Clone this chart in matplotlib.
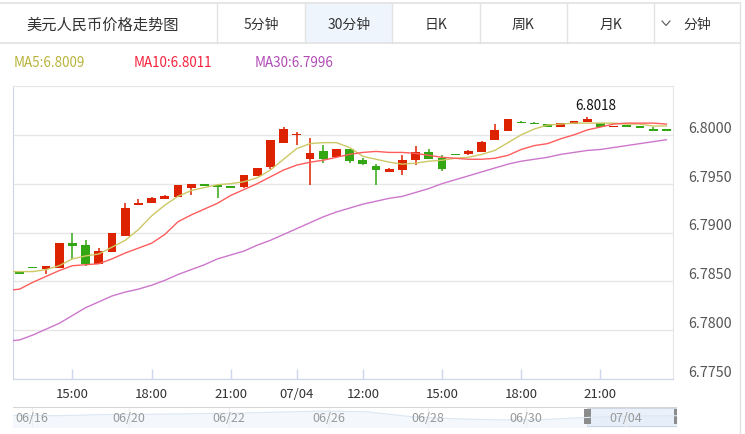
import matplotlib
matplotlib.use("Agg")
import matplotlib.pyplot as plt
from matplotlib.patches import Rectangle

plt.rcParams['font.family'] = ['Noto Sans CJK SC', 'DejaVu Sans']

# 30-minute candles, USD/CNY
opens = [6.7859, 6.7864, 6.7863, 6.7864, 6.7889, 6.7887, 6.7868, 6.7880, 6.7896, 6.7928,
         6.7930, 6.7934, 6.7936, 6.7946, 6.7949, 6.7948, 6.7947, 6.7947, 6.7958, 6.7967,
         6.7992, 6.8000, 6.7975, 6.7983, 6.7977, 6.7985, 6.7974, 6.7968, 6.7962, 6.7964,
         6.7974, 6.7982, 6.7976, 6.7980, 6.7980, 6.7982, 6.7995, 6.8004, 6.8013, 6.8012,
         6.8011, 6.8008, 6.8011, 6.8013, 6.8012, 6.8008, 6.8009, 6.8008, 6.8006, 6.8005]
highs = [6.7860, 6.7864, 6.7866, 6.7889, 6.7900, 6.7892, 6.7884, 6.7900, 6.7930, 6.7934,
         6.7936, 6.7938, 6.7949, 6.7950, 6.7949, 6.7948, 6.7947, 6.7959, 6.7966, 6.7995,
         6.8008, 6.8003, 6.7997, 6.7990, 6.7986, 6.7985, 6.7976, 6.7970, 6.7966, 6.7979,
         6.7989, 6.7985, 6.7979, 6.7980, 6.7984, 6.7994, 6.8011, 6.8016, 6.8014, 6.8013,
         6.8011, 6.8012, 6.8014, 6.8018, 6.8012, 6.8009, 6.8009, 6.8008, 6.8008, 6.8005]
lows = [6.7857, 6.7864, 6.7858, 6.7864, 6.7873, 6.7866, 6.7868, 6.7880, 6.7896, 6.7928,
        6.7930, 6.7934, 6.7936, 6.7938, 6.7948, 6.7935, 6.7946, 6.7946, 6.7958, 6.7965,
        6.7992, 6.7990, 6.7949, 6.7971, 6.7977, 6.7971, 6.7969, 6.7949, 6.7962, 6.7959,
        6.7969, 6.7975, 6.7963, 6.7979, 6.7979, 6.7982, 6.7995, 6.8004, 6.8012, 6.8011,
        6.8008, 6.8008, 6.8011, 6.8013, 6.8008, 6.8008, 6.8008, 6.8008, 6.8004, 6.8005]
closes = [6.7858, 6.7864, 6.7866, 6.7889, 6.7886, 6.7868, 6.7881, 6.7899, 6.7925, 6.7930,
          6.7935, 6.7937, 6.7949, 6.7950, 6.7948, 6.7947, 6.7946, 6.7959, 6.7966, 6.7995,
          6.8006, 6.8001, 6.7981, 6.7975, 6.7986, 6.7973, 6.7970, 6.7964, 6.7965, 6.7974,
          6.7982, 6.7975, 6.7965, 6.7979, 6.7983, 6.7993, 6.8005, 6.8016, 6.8012, 6.8011,
          6.8008, 6.8012, 6.8014, 6.8016, 6.8008, 6.8009, 6.8009, 6.8008, 6.8004, 6.8005]

ma5 = [6.7860, 6.7860, 6.7862, 6.7866, 6.7873, 6.7876, 6.7878, 6.7885, 6.7892, 6.7903,
       6.7917, 6.7928, 6.7937, 6.7943, 6.7946, 6.7949, 6.7950, 6.7952, 6.7956, 6.7964,
       6.7975, 6.7986, 6.7991, 6.7992, 6.7992, 6.7987, 6.7978, 6.7975, 6.7972, 6.7970,
       6.7971, 6.7973, 6.7974, 6.7976, 6.7977, 6.7980, 6.7984, 6.7992, 6.8000, 6.8006,
       6.8010, 6.8011, 6.8012, 6.8012, 6.8012, 6.8012, 6.8011, 6.8011, 6.8009, 6.8009]
ma10 = [6.7842, 6.7849, 6.7855, 6.7861, 6.7866, 6.7867, 6.7868, 6.7873, 6.7879, 6.7884,
        6.7889, 6.7898, 6.7911, 6.7918, 6.7924, 6.7930, 6.7938, 6.7944, 6.7950, 6.7957,
        6.7964, 6.7969, 6.7972, 6.7974, 6.7977, 6.7980, 6.7982, 6.7983, 6.7982, 6.7982,
        6.7981, 6.7979, 6.7977, 6.7976, 6.7975, 6.7975, 6.7976, 6.7979, 6.7985, 6.7989,
        6.7991, 6.7996, 6.8000, 6.8005, 6.8008, 6.8011, 6.8012, 6.8012, 6.8012, 6.8011]
ma30 = [6.7790, 6.7795, 6.7801, 6.7807, 6.7815, 6.7823, 6.7829, 6.7835, 6.7839, 6.7842,
        6.7846, 6.7851, 6.7857, 6.7862, 6.7867, 6.7873, 6.7877, 6.7881, 6.7887, 6.7892,
        6.7898, 6.7904, 6.7910, 6.7916, 6.7921, 6.7925, 6.7929, 6.7932, 6.7935, 6.7937,
        6.7941, 6.7945, 6.7950, 6.7954, 6.7958, 6.7962, 6.7966, 6.7970, 6.7973, 6.7975,
        6.7977, 6.7980, 6.7982, 6.7984, 6.7985, 6.7987, 6.7989, 6.7991, 6.7993, 6.7995]

xtick_pos = [4, 10, 16, 21, 26, 32, 38, 44]
xtick_labels = ["15:00", "18:00", "21:00", "07/04", "12:00", "15:00", "18:00", "21:00"]
ytick_vals = [6.7750, 6.7800, 6.7850, 6.7900, 6.7950, 6.8000]
y_min, y_max = 6.7750, 6.8050

title = "美元人民币价格走势图"
tabs = ["5分钟", "30分钟", "日K", "周K", "月K"]
ma_labels = ["MA5:6.8009", "MA10:6.8011", "MA30:6.7996"]
max_label = "6.8018"
max_idx = 43

nav_labels = ["06/16", "06/20", "06/22", "06/26", "06/28", "06/30", "07/04"]
nav_shadow = [0.55, 0.52, 0.60, 0.62, 0.66, 0.70, 0.78, 0.85, 0.80, 0.45, 0.30, 0.22, 0.25, 0.40, 0.50, 0.52]

RED = '#dd2200'
GREEN = '#33a614'
MA_COLORS = ['#cdc865', '#ff5c5c', '#cc77cc']
MA_TEXT = ['#b8b33a', '#f5213d', '#b04ab5']
W, H = 745, 435

fig = plt.figure(figsize=(W / 100, H / 100), dpi=100)
fig.patch.set_facecolor('white')

# header / frame drawn in pixel coords
bg = fig.add_axes([0, 0, 1, 1])
bg.set_xlim(0, W)
bg.set_ylim(H, 0)
bg.axis('off')
line_c = '#e2e2e2'
bg.add_patch(Rectangle((305, 3.5), 87, 40.5, facecolor='#eef5fd', edgecolor='none'))
bg.plot([0, 740], [3.5, 3.5], color=line_c, lw=1.2)
bg.plot([0, 740], [44, 44], color=line_c, lw=1.2)
for xd in [217, 305, 392, 480, 567, 654]:
    bg.plot([xd, xd], [3.5, 44], color=line_c, lw=1.0)
bg.plot([740, 740], [3.5, H], color=line_c, lw=1.0)
bg.text(103, 25, title, ha='center', va='center', fontsize=11, color='#333333')
for tx, name in zip([261, 349, 436, 523, 611], tabs):
    bg.text(tx, 25, name, ha='center', va='center', fontsize=10, color='#333333')
bg.plot([662, 666, 670], [22, 26.5, 22], color='#555555', lw=0.8)
bg.text(697, 25, "分钟", ha='center', va='center', fontsize=10, color='#333333')
for mx, lab, c in zip([14, 134, 255], ma_labels, MA_TEXT):
    bg.text(mx, 63, lab, ha='left', va='center', fontsize=9.7, color=c)

# main chart
ax = fig.add_axes([13 / W, 1 - 380 / H, 660 / W, 293 / H])
n = len(opens)
ax.set_xlim(-0.5, n - 0.5)
ax.set_ylim(y_min, y_max)
ax.set_yticks(ytick_vals)
ax.yaxis.grid(True, color='#e6e6e6', lw=1.0)
ax.set_axisbelow(True)
ax.yaxis.tick_right()
ax.set_yticklabels(["%.4f" % v for v in ytick_vals])
ax.tick_params(axis='y', length=0, pad=11, labelsize=10.3, labelcolor='#555555')
for lab in ax.get_yticklabels():
    lab.set_va('bottom')
ax.set_xticks(xtick_pos)
ax.set_xticklabels(xtick_labels)
ax.tick_params(axis='x', direction='in', length=7, color='#ccd6eb', width=1.0,
               pad=6, labelsize=9.5, labelcolor='#333333')
for side in ['left', 'bottom']:
    ax.spines[side].set_color('#ccd6eb')
for side in ['top', 'right']:
    ax.spines[side].set_color('#e6e6e6')

min_h = 0.00013
for i in range(n):
    o, c = opens[i], closes[i]
    col = RED if c > o else GREEN
    ax.vlines(i, lows[i], highs[i], color=col, lw=1.1, zorder=3)
    h = abs(c - o)
    if h < min_h:
        ax.bar(i, min_h, bottom=(o + c) / 2 - min_h / 2, width=0.68, color=col, zorder=4)
    else:
        ax.bar(i, h, bottom=min(o, c), width=0.68, color=col, zorder=4)

xs = list(range(n))
ax.plot([-0.5] + xs, [ma5[0]] + ma5, color=MA_COLORS[0], lw=1.0, zorder=5)
ax.plot([-0.5] + xs, [ma10[0] - 0.00007] + ma10, color=MA_COLORS[1], lw=1.0, zorder=5)
ax.plot([-0.5] + xs, [ma30[0] - 0.00007] + ma30, color=MA_COLORS[2], lw=1.0, zorder=5)

ax.annotate(max_label, xy=(max_idx, highs[max_idx]), xytext=(9, 12),
            textcoords='offset pixels', ha='center', va='center',
            fontsize=9.7, color='#111111')

# data-zoom navigator
nav = fig.add_axes([13 / W, 1 - 428 / H, 664 / W, 20 / H])
nav.set_xlim(13, 677)
nav.set_ylim(428, 408)
nav.axis('off')
nav.plot([13, 677], [408.5, 408.5], color='#cccccc', lw=1.2)
sx = [13 + k * 664 / (len(nav_shadow) - 1) for k in range(len(nav_shadow))]
sy = [424 - v * 14 for v in nav_shadow]
nav.plot(sx, sy, color='#dce8f4', lw=0.8)
nav.fill_between(sx, sy, 428, color='#f4f8fc')
for lx, lab in zip([32, 129, 229, 329, 428, 526, 626], nav_labels):
    nav.plot([lx, lx], [409, 428], color='#ececec', lw=0.8)
    nav.text(lx, 419, lab, ha='center', va='center', fontsize=9, color='#999999')
nav.add_patch(Rectangle((587, 409), 90, 18, facecolor='#dde9f8', alpha=0.6,
                        edgecolor='#b8c4d4', lw=0.8))
for hx in [587, 677]:
    nav.add_patch(Rectangle((hx - 3.5, 410), 7, 15, facecolor='#8c8c8c', edgecolor='none'))

fig.savefig('out.png', dpi=100)
